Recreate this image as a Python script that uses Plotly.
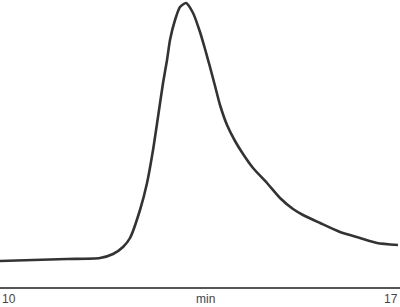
import plotly.graph_objects as go

time_min = [10.000, 10.578, 11.173, 11.750, 11.978, 12.153, 12.275, 12.450, 12.573,
            12.678, 12.765, 12.853, 12.923, 12.975, 13.063, 13.150, 13.255, 13.378,
            13.500, 13.588, 13.675, 13.763, 13.850, 13.973, 14.113, 14.253, 14.428,
            14.673, 14.900, 15.128, 15.303, 15.600, 15.950, 16.300, 16.598, 16.965]
signal = [26, 27, 28, 29, 33, 40, 49, 77, 104,
          137, 170, 204, 227, 247, 267, 280, 284, 274,
          255, 238, 220, 201, 182, 162, 146, 133, 119,
          104, 89, 78, 72, 64, 55, 49, 44, 42]

x_start_label = "10"
x_end_label = "17"
x_unit_label = "min"
x_range = [10, 17]

fig = go.Figure()
fig.add_trace(go.Scatter(
    x=time_min, y=signal, mode="lines",
    line=dict(color="#333333", width=2.6, shape="spline", smoothing=0.6),
    hoverinfo="skip", showlegend=False,
))

font = dict(family="Liberation Sans Narrow, Arial Narrow, Liberation Sans, sans-serif",
            size=12, color="#444444")

fig.add_annotation(x=x_range[0], y=0, xref="x", yref="paper", text=x_start_label,
                   showarrow=False, xanchor="left", yanchor="top", yshift=-3, font=font)
fig.add_annotation(x=x_range[1], y=0, xref="x", yref="paper", text=x_end_label,
                   showarrow=False, xanchor="right", yanchor="top", yshift=-3, font=font)
fig.add_annotation(x=13.59, y=0, xref="x", yref="paper", text=x_unit_label,
                   showarrow=False, xanchor="center", yanchor="top", yshift=-3, font=font)

fig.update_layout(
    width=400, height=307,
    margin=dict(l=0, r=0, t=0, b=20),
    paper_bgcolor="white", plot_bgcolor="white",
    xaxis=dict(range=x_range, showgrid=False, zeroline=False, showticklabels=False,
               ticks="", showline=True, linecolor="#555555", linewidth=1.5),
    yaxis=dict(range=[0, 287], showgrid=False, zeroline=False, showticklabels=False,
               ticks="", showline=False),
)

fig.write_html("out.html")
